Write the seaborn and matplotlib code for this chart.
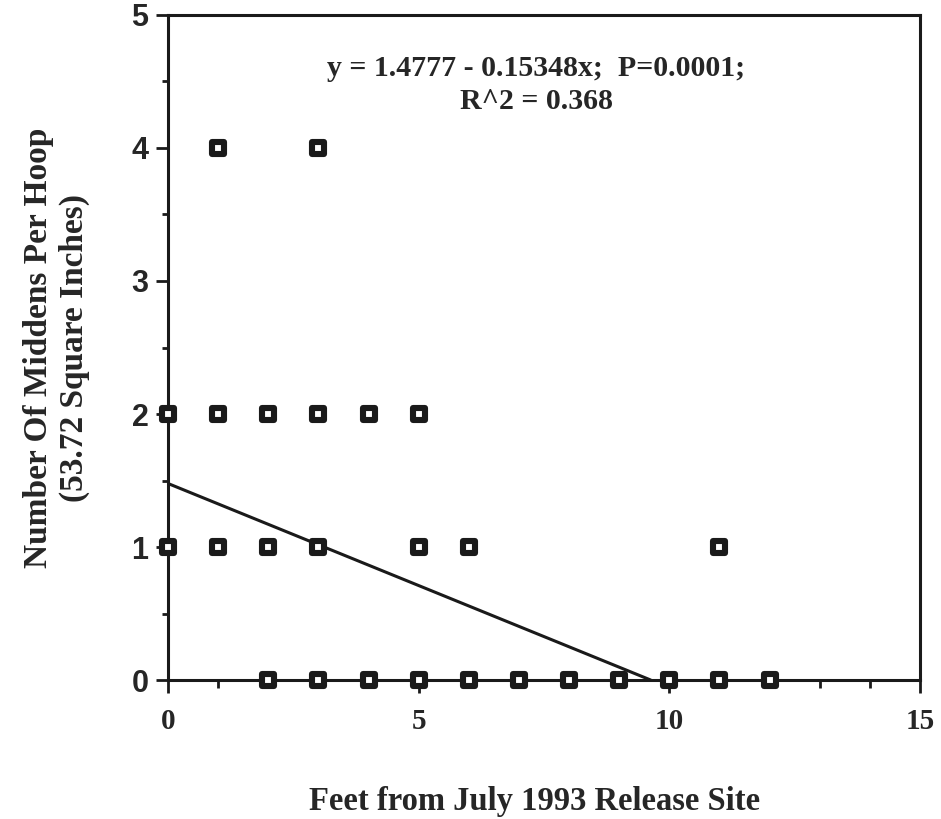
import numpy as np
import pandas as pd
import seaborn as sns
import matplotlib.pyplot as plt
from matplotlib.ticker import MultipleLocator

# distance from release site (feet) and middens per hoop
feet = [1, 3,
        0, 1, 2, 3, 4, 5,
        0, 1, 2, 3, 5, 6, 11,
        2, 3, 4, 5, 6, 7, 8, 9, 10, 11, 12]
middens = [4, 4,
           2, 2, 2, 2, 2, 2,
           1, 1, 1, 1, 1, 1, 1,
           0, 0, 0, 0, 0, 0, 0, 0, 0, 0, 0]

intercept = 1.4777
slope = -0.15348

x_ticks = [0, 5, 10, 15]
y_ticks = [0, 1, 2, 3, 4, 5]

sns.set_style("ticks")
plt.rcParams['font.family'] = ['Liberation Serif', 'DejaVu Serif']

df = pd.DataFrame({'feet': feet, 'middens': middens})
x_end = -intercept / slope
fit = pd.DataFrame({'feet': [0, x_end], 'middens': [intercept, intercept + slope * x_end]})

fig = plt.figure(figsize=(9.41, 8.19), dpi=100)
ax = fig.add_axes([0.1785, 0.1697, 0.7992, 0.812])

sns.lineplot(data=fit, x='feet', y='middens', ax=ax, color='#1a1a1a', linewidth=2.2)
sns.scatterplot(data=df, x='feet', y='middens', ax=ax, marker='s', s=72,
                facecolor='white', edgecolor='#1a1a1a', linewidth=4.4,
                clip_on=False, zorder=5)

ax.set_xlim(0, 15)
ax.set_ylim(0, 5)
ax.set_xticks(x_ticks)
ax.set_yticks(y_ticks)
ax.xaxis.set_minor_locator(MultipleLocator(1))
ax.yaxis.set_minor_locator(MultipleLocator(0.5))

for side in ['left', 'right', 'top', 'bottom']:
    ax.spines[side].set_visible(True)
    ax.spines[side].set_linewidth(2.2)
    ax.spines[side].set_color('#1a1a1a')

ax.tick_params(axis='both', which='major', direction='out', length=9, width=2, color='#1a1a1a')
ax.tick_params(axis='x', which='minor', direction='out', length=6, width=2, color='#1a1a1a')
ax.tick_params(axis='y', which='minor', direction='out', length=4, width=2, color='#1a1a1a')
ax.tick_params(axis='x', which='major', pad=11)
ax.tick_params(axis='y', which='major', pad=5)

for lbl in ax.get_xticklabels():
    lbl.set_fontsize(21)
    lbl.set_fontweight('bold')
    lbl.set_family(['Liberation Serif', 'DejaVu Serif'])
for lbl in ax.get_yticklabels():
    lbl.set_fontsize(22)
    lbl.set_fontweight('bold')
    lbl.set_family(['Liberation Sans', 'DejaVu Sans'])

ax.set_xlabel('Feet from July 1993 Release Site', fontsize=23.5, fontweight='bold', labelpad=36)
ax.xaxis.set_label_coords(0.488, -0.16)
ax.set_ylabel('Number Of Middens Per Hoop\n(53.72 Square Inches)', fontsize=24,
              fontweight='bold', labelpad=30, linespacing=1.2)

ax.text(0.49, 0.94, 'y = 1.4777 - 0.15348x;  P=0.0001;\nR^2 = 0.368', transform=ax.transAxes,
        ha='center', va='top', fontsize=21.5, fontweight='bold', linespacing=1.3)

fig.savefig('out.png', dpi=100)
